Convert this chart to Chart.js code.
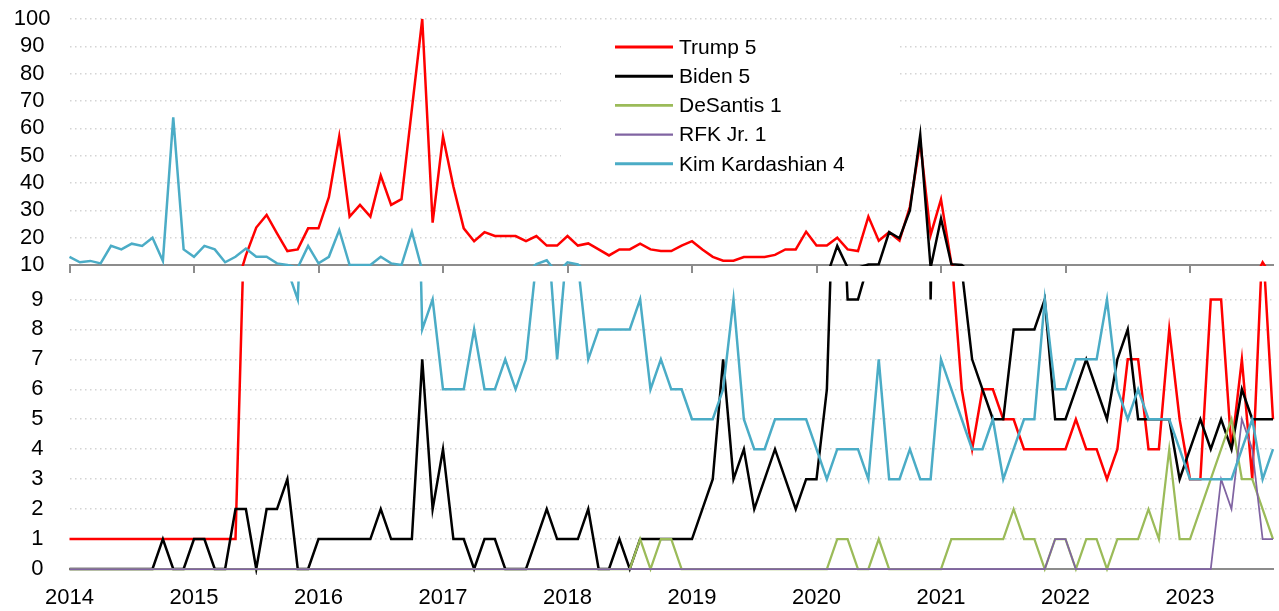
<!DOCTYPE html>
<html lang="en">
<head>
    <meta charset="UTF-8">
    <title>Mentions</title>
    <script src="https://cdn.jsdelivr.net/npm/chart.js@4.4.1/dist/chart.umd.min.js"></script>
    <style>
        body { margin: 0; background: #fff; }
        #wrap { width: 1279px; height: 611px; }
    </style>
</head>
<body>
    <div id="wrap"><canvas id="chart" width="1279" height="611"></canvas></div>

    <script>
        // monthly categories, Jan 2014 .. Sep 2023
        const startYear = 2014;
        const monthCount = 117;
        const months = [];
        for (let i = 0; i < monthCount; i++) {
            months.push(`${startYear + Math.floor(i / 12)}-${String(i % 12 + 1).padStart(2, "0")}`);
        }

        const upperTicks = [10, 20, 30, 40, 50, 60, 70, 80, 90, 100];
        const lowerTicks = [0, 1, 2, 3, 4, 5, 6, 7, 8, 9];

        const seriesNames = ["Trump 5", "Biden 5", "DeSantis 1", "RFK Jr. 1", "Kim Kardashian 4"];

        const trump = [
            1, 1, 1, 1, 1, 1, 1, 1, 1, 1, 1, 1,
            1, 1, 1, 1, 1, 13.5, 23.7, 28.3, 21.6, 15.1, 15.7, 23.4,
            23.4, 34.8, 57, 27.7, 32, 27.7, 42.7, 32, 34.1, 67, 100, 25.5,
            57, 38.7, 23.4, 18.7, 22, 20.6, 20.6, 20.6, 18.7, 20.6, 17.1, 17.1,
            20.6, 17.1, 17.9, 15.7, 13.5, 15.7, 15.7, 17.8, 15.7, 15.1, 15.1, 17.1,
            18.7, 15.7, 13, 11.6, 11.6, 12.9, 12.9, 12.9, 13.7, 15.7, 15.7, 22.2,
            17.1, 17.1, 20, 15.7, 15.1, 27.7, 18.9, 22, 18.9, 31.3, 55, 21,
            34, 10.5, 6, 4, 6, 6, 5, 5, 4, 4, 4, 4,
            4, 5, 4, 4, 3, 4, 7, 7, 4, 4, 8, 5,
            3, 3, 9, 9, 4, 7, 3, 11, 5
        ];
        const biden = [
            0, 0, 0, 0, 0, 0, 0, 0, 0, 1, 0, 0,
            1, 1, 0, 0, 2, 2, 0, 2, 2, 3, 0, 0,
            1, 1, 1, 1, 1, 1, 2, 1, 1, 1, 7, 2,
            4, 1, 1, 0, 1, 1, 0, 0, 0, 1, 2, 1,
            1, 1, 2, 0, 0, 1, 0, 1, 1, 1, 1, 1,
            1, 2, 3, 7, 3, 4, 2, 3, 4, 3, 2, 3,
            3, 6, 17, 9, 9, 10.2, 10.3, 22, 19.8, 30, 57.6, 9,
            27, 10.3, 10, 7, 6, 5, 5, 8, 8, 8, 9, 5,
            5, 6, 7, 6, 5, 7, 8, 5, 5, 5, 5, 3,
            4, 5, 4, 5, 4, 6, 5, 5, 5
        ];
        const desantis = [
            0, 0, 0, 0, 0, 0, 0, 0, 0, 0, 0, 0,
            0, 0, 0, 0, 0, 0, 0, 0, 0, 0, 0, 0,
            0, 0, 0, 0, 0, 0, 0, 0, 0, 0, 0, 0,
            0, 0, 0, 0, 0, 0, 0, 0, 0, 0, 0, 0,
            0, 0, 0, 0, 0, 0, 0, 1, 0, 1, 1, 0,
            0, 0, 0, 0, 0, 0, 0, 0, 0, 0, 0, 0,
            0, 0, 1, 1, 0, 0, 1, 0, 0, 0, 0, 0,
            0, 1, 1, 1, 1, 1, 1, 2, 1, 1, 0, 1,
            1, 0, 1, 1, 0, 1, 1, 1, 2, 1, 4, 1,
            1, 2, 3, 4, 5, 3, 3, 2, 1
        ];
        const rfk = [
            0, 0, 0, 0, 0, 0, 0, 0, 0, 0, 0, 0,
            0, 0, 0, 0, 0, 0, 0, 0, 0, 0, 0, 0,
            0, 0, 0, 0, 0, 0, 0, 0, 0, 0, 0, 0,
            0, 0, 0, 0, 0, 0, 0, 0, 0, 0, 0, 0,
            0, 0, 0, 0, 0, 0, 0, 0, 0, 0, 0, 0,
            0, 0, 0, 0, 0, 0, 0, 0, 0, 0, 0, 0,
            0, 0, 0, 0, 0, 0, 0, 0, 0, 0, 0, 0,
            0, 0, 0, 0, 0, 0, 0, 0, 0, 0, 0, 1,
            1, 0, 0, 0, 0, 0, 0, 0, 0, 0, 0, 0,
            0, 0, 0, 3, 2, 5, 4, 1, 1
        ];
        const kim = [
            13, 11, 11.5, 10.6, 17, 15.7, 17.8, 17, 20, 11.5, 64, 15.7,
            13, 17, 15.7, 11, 13, 16, 13, 13, 10.6, 10, 9, 17,
            10.6, 13, 22.8, 10, 10, 10, 13, 10.6, 10, 22.2, 8, 9,
            6, 6, 6, 8, 6, 6, 7, 6, 7, 10.3, 11.7, 7,
            11, 10.2, 7, 8, 8, 8, 8, 9, 6, 7, 6, 6,
            5, 5, 5, 6, 9, 5, 4, 4, 5, 5, 5, 5,
            4, 3, 4, 4, 4, 3, 7, 3, 3, 4, 3, 3,
            7, 6, 5, 4, 4, 5, 3, 4, 5, 5, 9, 6,
            6, 7, 7, 7, 9, 6, 5, 6, 5, 5, 5, 4,
            3, 3, 3, 3, 3, 4, 5, 3, 4
        ];

        const seriesData = [trump, biden, desantis, rfk, kim];
        const seriesColors = ["#ff0000", "#000000", "#9bbb59", "#8064a2", "#4bacc6"];
        const seriesWidths = [2.5, 2.5, 2.25, 1.75, 2.5];

        const fontFamily = '"Liberation Sans", Arial, sans-serif';
        const tickFont = { family: fontFamily, size: 22 };
        const axisGrey = "#8c8c8c";
        const gridGrey = "#d4d4d4";
        const clear = "rgba(0,0,0,0)";
        const lowerVisibleTop = 9.6; // upper panel covers the lower one above this value

        // every series is drawn twice: once against each panel's scale
        const datasets = [];
        ["yTop", "yBot"].forEach(axisId => {
            seriesData.forEach((values, i) => {
                datasets.push({
                    label: seriesNames[i],
                    data: values,
                    xAxisID: "x",
                    yAxisID: axisId,
                    borderColor: seriesColors[i],
                    borderWidth: seriesWidths[i],
                    pointRadius: 0,
                    tension: 0,
                    clip: 6,
                    order: seriesData.length - i
                });
            });
        });

        const keepJanuary = scale => {
            scale.ticks = scale.ticks.filter(t => t.value % 12 === 0);
        };

        // each copy only shows inside its own panel
        const panelClip = {
            id: "panelClip",
            beforeDatasetDraw(chart, args) {
                const ds = chart.data.datasets[args.index];
                const area = chart.chartArea;
                let top, bottom;
                if (ds.yAxisID === "yTop") {
                    top = 0;
                    bottom = chart.scales.yTop.bottom + 1;
                } else {
                    top = chart.scales.yBot.getPixelForValue(lowerVisibleTop);
                    bottom = chart.height;
                }
                chart.ctx.save();
                chart.ctx.beginPath();
                chart.ctx.rect(area.left - 6, top, area.width + 12, bottom - top);
                chart.ctx.clip();
            },
            afterDatasetDraw(chart) {
                chart.ctx.restore();
            }
        };

        const boxLegend = {
            id: "boxLegend",
            afterDatasetsDraw(chart) {
                const ctx = chart.ctx;
                ctx.save();
                ctx.fillStyle = "#fff";
                ctx.fillRect(561, 30, 339, 142);
                ctx.font = `21px ${fontFamily}`;
                ctx.textBaseline = "middle";
                seriesNames.forEach((name, i) => {
                    const y = 47 + i * 29.2;
                    ctx.strokeStyle = seriesColors[i];
                    ctx.lineWidth = seriesWidths[i] + 0.5;
                    ctx.beginPath();
                    ctx.moveTo(615, y);
                    ctx.lineTo(673, y);
                    ctx.stroke();
                    ctx.fillStyle = "#000";
                    ctx.fillText(name, 679, y + 1);
                });
                ctx.restore();
            }
        };

        new Chart(document.getElementById("chart").getContext("2d"), {
            type: "line",
            data: { labels: months, datasets: datasets },
            options: {
                responsive: false,
                animation: false,
                devicePixelRatio: 1,
                // the bottom axis reserves more room than its labels need
                layout: { padding: { top: 19, right: 6, bottom: -16.4, left: 0 } },
                plugins: { legend: { display: false }, tooltip: { enabled: false } },
                scales: {
                    x: {
                        type: "category",
                        position: "bottom",
                        grid: { display: false, drawTicks: false },
                        border: { display: true, color: axisGrey, width: 2 },
                        afterBuildTicks: keepJanuary,
                        ticks: {
                            autoSkip: false,
                            maxRotation: 0,
                            padding: 16,
                            color: "#000",
                            font: tickFont,
                            callback: v => months[v].slice(0, 4)
                        }
                    },
                    xTop: {
                        type: "category",
                        position: { yTop: 10 },
                        grid: { display: true, drawOnChartArea: false, drawTicks: true, tickLength: 7, color: axisGrey, lineWidth: 2 },
                        border: { display: true, color: axisGrey, width: 2 },
                        afterBuildTicks: keepJanuary,
                        ticks: { display: false }
                    },
                    // the layout stacks these bottom-up, so the lower panel comes first
                    yBot: {
                        type: "linear",
                        position: "left",
                        stack: "panels",
                        stackWeight: 304,
                        min: 0,
                        max: 10.15,
                        afterBuildTicks: s => { s.ticks = lowerTicks.map(v => ({ value: v })); },
                        afterFit: s => { s.width = 69.5; },
                        grid: {
                            drawTicks: true,
                            tickLength: 26,
                            tickColor: clear,
                            lineWidth: 1.5,
                            color: c => (c.tick && c.tick.value === 0) ? clear : gridGrey
                        },
                        border: { display: false, dash: [1.5, 3.5] },
                        ticks: { autoSkip: false, crossAlign: "center", padding: 0, color: "#000", font: tickFont }
                    },
                    yTop: {
                        type: "linear",
                        position: "left",
                        stack: "panels",
                        stackWeight: 246,
                        min: 10,
                        max: 100,
                        afterBuildTicks: s => { s.ticks = upperTicks.map(v => ({ value: v })); },
                        afterFit: s => { s.width = 69.5; },
                        grid: {
                            drawTicks: true,
                            tickLength: 19,
                            tickColor: clear,
                            lineWidth: 1.5,
                            color: c => (c.tick && c.tick.value === 10) ? clear : gridGrey
                        },
                        border: { display: false, dash: [1.5, 3.5] },
                        ticks: { autoSkip: false, crossAlign: "center", padding: 0, color: "#000", font: tickFont }
                    }
                }
            },
            plugins: [panelClip, boxLegend]
        });
    </script>
</body>
</html>
